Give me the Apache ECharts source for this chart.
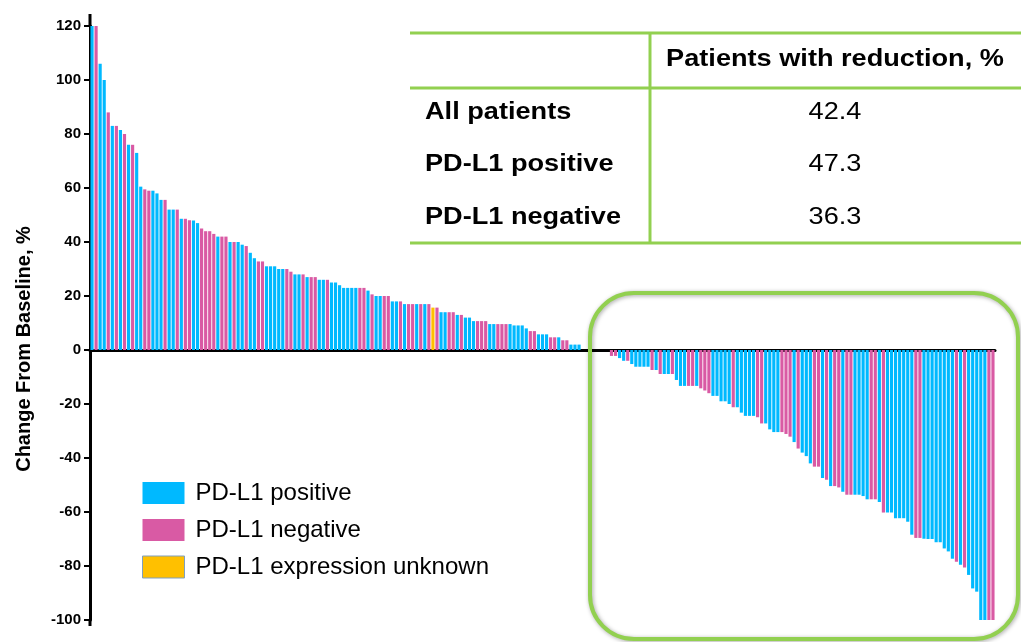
<!DOCTYPE html>
<html>
<head>
<meta charset="utf-8">
<script src="https://cdn.jsdelivr.net/npm/echarts@6/dist/echarts.min.js"></script>
<style>
html,body{margin:0;padding:0;background:#fff;}
#chart{width:1021px;height:642px;}
</style>
</head>
<body>
<div id="chart"></div>
<script>
// Change from baseline (%) per patient, sorted (waterfall)
const changes = [
  122,120,106,100,88,83,83,81.5,80,76,76,73,60.5,59.5,59,59,58,55.6,55.6,52,52,52,48.6,48.6,48.1,48,47,45,44,44,43,42,42,42,40,40,40,39,38.5,36,34,
  32.8,32.8,31,31,31,30,30,30,29,28,28,28,27,27,27,26,26,26,25,25,24,23,23,23,23,23,23,22,20.6,20,20,20,20,18,18,18,17,17,17,17,17,
  17,17,15.7,15.7,14,14,14,14,13,13,12,12,10.7,10.7,10.7,10.7,9.6,9.6,9.6,9.6,9.6,9.6,9.1,9.1,9.1,8,7,7,5.8,5.8,5.8,4.7,4.7,4.7,3.6,3.6,2,2,2,
  0,0,0,0,0,0,0,
  -2.2,-2.2,-3,-4,-4,-5.2,-6.2,-6.2,-6.2,-6.2,-7.4,-7.4,-8.9,-8.9,-8.9,-8.9,-11.1,-13.3,-13.3,-13.3,-13.3,-13.3,-14.2,
  -15,-16,-17,-17,-19,-19,-20,-21.2,-21.2,-23.2,-24.4,-24.4,-24.4,-24.9,-27.2,-27.2,-29.4,-30.4,-30.4,-30.4,-31.1,-32.1,-34.1,-36.5,-38,-39.3,-42,-43.2,-43.2,-47.4,-48.1,-50.4,-50.4,-50.9,-52.5,
  -53.6,-53.6,-53.6,-53.6,-54.1,-55.3,-55.3,-55.3,-56.3,-60.2,-60.2,-60.2,-62.3,-62.3,-62.3,-63.6,-68.4,-69.6,-69.6,-69.9,-70,-70,-71.2,-71.2,-73.5,-74.6,-77.3,-78.4,-79.5,-80.6,-83.3,-88.3,-89.5,-100,-100,-100,-100
];
// PD-L1 status per patient: B = positive, P = negative, U = unknown
const status = [
  'B','P','B','B','P','B','P','B','P','B','P','B','B','P','P','B','B','B','P','B','B','P','B','P','P','B','B','P','P','P','P','B','P','P','B','P','B','B','P','B','B',
  'P','P','B','B','B','B','B','P','P','B','B','P','B','P','P','B','B','P','B','B','B','B','B','B','B','P','P','B','P','B','B','P','P','B','B','P','B','P','P','B','P',
  'B','P','U','P','B','B','P','P','B','P','B','B','B','P','P','P','B','B','P','P','P','B','B','B','B','B','P','P','B','B','B','P','P','B','P','P','B','B','B',
  'B','B','B','B','B','B','B',
  'P','P','B','B','P','B','B','B','B','B','P','B','P','B','B','P','B','B','B','P','P','B','P',
  'P','P','B','B','B','B','B','P','B','B','B','B','B','P','P','B','B','B','B','P','P','P','B','P','B','B','B','P','P','B','P','B','P','P','B',
  'P','P','B','B','B','B','P','P','B','P','B','B','B','B','B','B','B','P','P','B','B','B','B','B','B','B','B','P','B','P','B','B','B','B','B','P','P'
];
const groupNames = ['PD-L1 positive','PD-L1 negative','PD-L1 expression unknown'];
const groupCodes = ['B','P','U'];
const groupColors = ['#00B9FF','#D95AA4','#FFC000'];
const yTicks = {min:-100, max:120, step:20};
const tableHeader = 'Patients with reduction, %';
const tableRows = ['All patients','PD-L1 positive','PD-L1 negative'];
const tableValues = ['42.4','47.3','36.3'];

const font = 'Arial, "Liberation Sans", sans-serif';
const green = '#92D050';
const categories = changes.map((v,i)=>String(i+1));

const series = groupCodes.map((code,gi)=>({
  name: groupNames[gi],
  type: 'bar',
  barGap: '-100%',
  barCategoryGap: '22%',
  itemStyle: {color: groupColors[gi]},
  data: changes.map((v,i)=> status[i]===code ? v : '-'),
  z: 2
}));

const sx = 1.18;
const tableGraphics = [];
const tx0 = 410, tx1 = 1021, tvx = 650, ty = [33, 88, 243];
ty.forEach(y=>tableGraphics.push({type:'line', shape:{x1:tx0,y1:y,x2:tx1,y2:y}, style:{stroke:green,lineWidth:3}}));
tableGraphics.push({type:'line', shape:{x1:tvx,y1:ty[0],x2:tvx,y2:ty[2]}, style:{stroke:green,lineWidth:3}});
tableGraphics.push({type:'text', x:835, y:60, scaleX:sx, style:{text:tableHeader, font:'bold 23px '+font, fill:'#000', align:'center', verticalAlign:'middle'}});
const rowY = [113,165,218];
tableRows.forEach((r,i)=>{
  tableGraphics.push({type:'text', x:425, y:rowY[i], scaleX:sx, style:{text:r, font:'bold 23px '+font, fill:'#000', align:'left', verticalAlign:'middle'}});
  tableGraphics.push({type:'text', x:835, y:rowY[i], scaleX:sx, style:{text:tableValues[i], font:'23px '+font, fill:'#000', align:'center', verticalAlign:'middle'}});
});
tableGraphics.push({type:'rect', shape:{x:590,y:293,width:428,height:346,r:44},
  style:{fill:'none', stroke:green, lineWidth:4, shadowBlur:4, shadowColor:'rgba(0,0,0,0.35)', shadowOffsetX:1, shadowOffsetY:1}, z:5});

const chart = echarts.init(document.getElementById('chart'), null, {renderer:'canvas'});
chart.setOption({
  animation: false,
  backgroundColor: '#fff',
  grid: {left: 90, right: 26, top: 26, bottom: 22, containLabel: false},
  legend: {
    orient: 'vertical', left: 142, top: 481, padding: 0, itemWidth: 42, itemHeight: 22, itemGap: 13,
    icon: 'rect',
    textStyle: {fontFamily: font, fontSize: 24, color: '#000', padding: [0,0,0,6]},
    data: [
      {name: groupNames[0]},
      {name: groupNames[1]},
      {name: groupNames[2], itemStyle:{borderColor:'#7f9fbf', borderWidth:1}}
    ]
  },
  xAxis: {
    type: 'category', data: categories,
    axisLine: {onZero: true, lineStyle: {color: '#000', width: 3}},
    axisTick: {show: false}, axisLabel: {show: false}, splitLine: {show: false}
  },
  yAxis: {
    type: 'value', min: yTicks.min, max: yTicks.max, interval: yTicks.step,
    name: 'Change From Baseline, %', nameLocation: 'middle', nameGap: 56, nameRotate: 90,
    nameTextStyle: {fontFamily: font, fontWeight: 'bold', fontSize: 20, color: '#000', padding: [0, 52, 0, 0]},
    axisLine: {show: true, lineStyle: {color: '#000', width: 3}},
    axisTick: {show: true, length: 6, lineStyle: {color: '#000', width: 2}},
    axisLabel: {fontFamily: font, fontWeight: 'bold', fontSize: 15, color: '#000', margin: 9},
    splitLine: {show: false}
  },
  series: series,
  graphic: tableGraphics.concat([
    {type:'line', shape:{x1:90,y1:14,x2:90,y2:27}, style:{stroke:'#000',lineWidth:3}},
    {type:'line', shape:{x1:90,y1:619,x2:90,y2:626}, style:{stroke:'#000',lineWidth:3}}
  ])
});
</script>
</body>
</html>
